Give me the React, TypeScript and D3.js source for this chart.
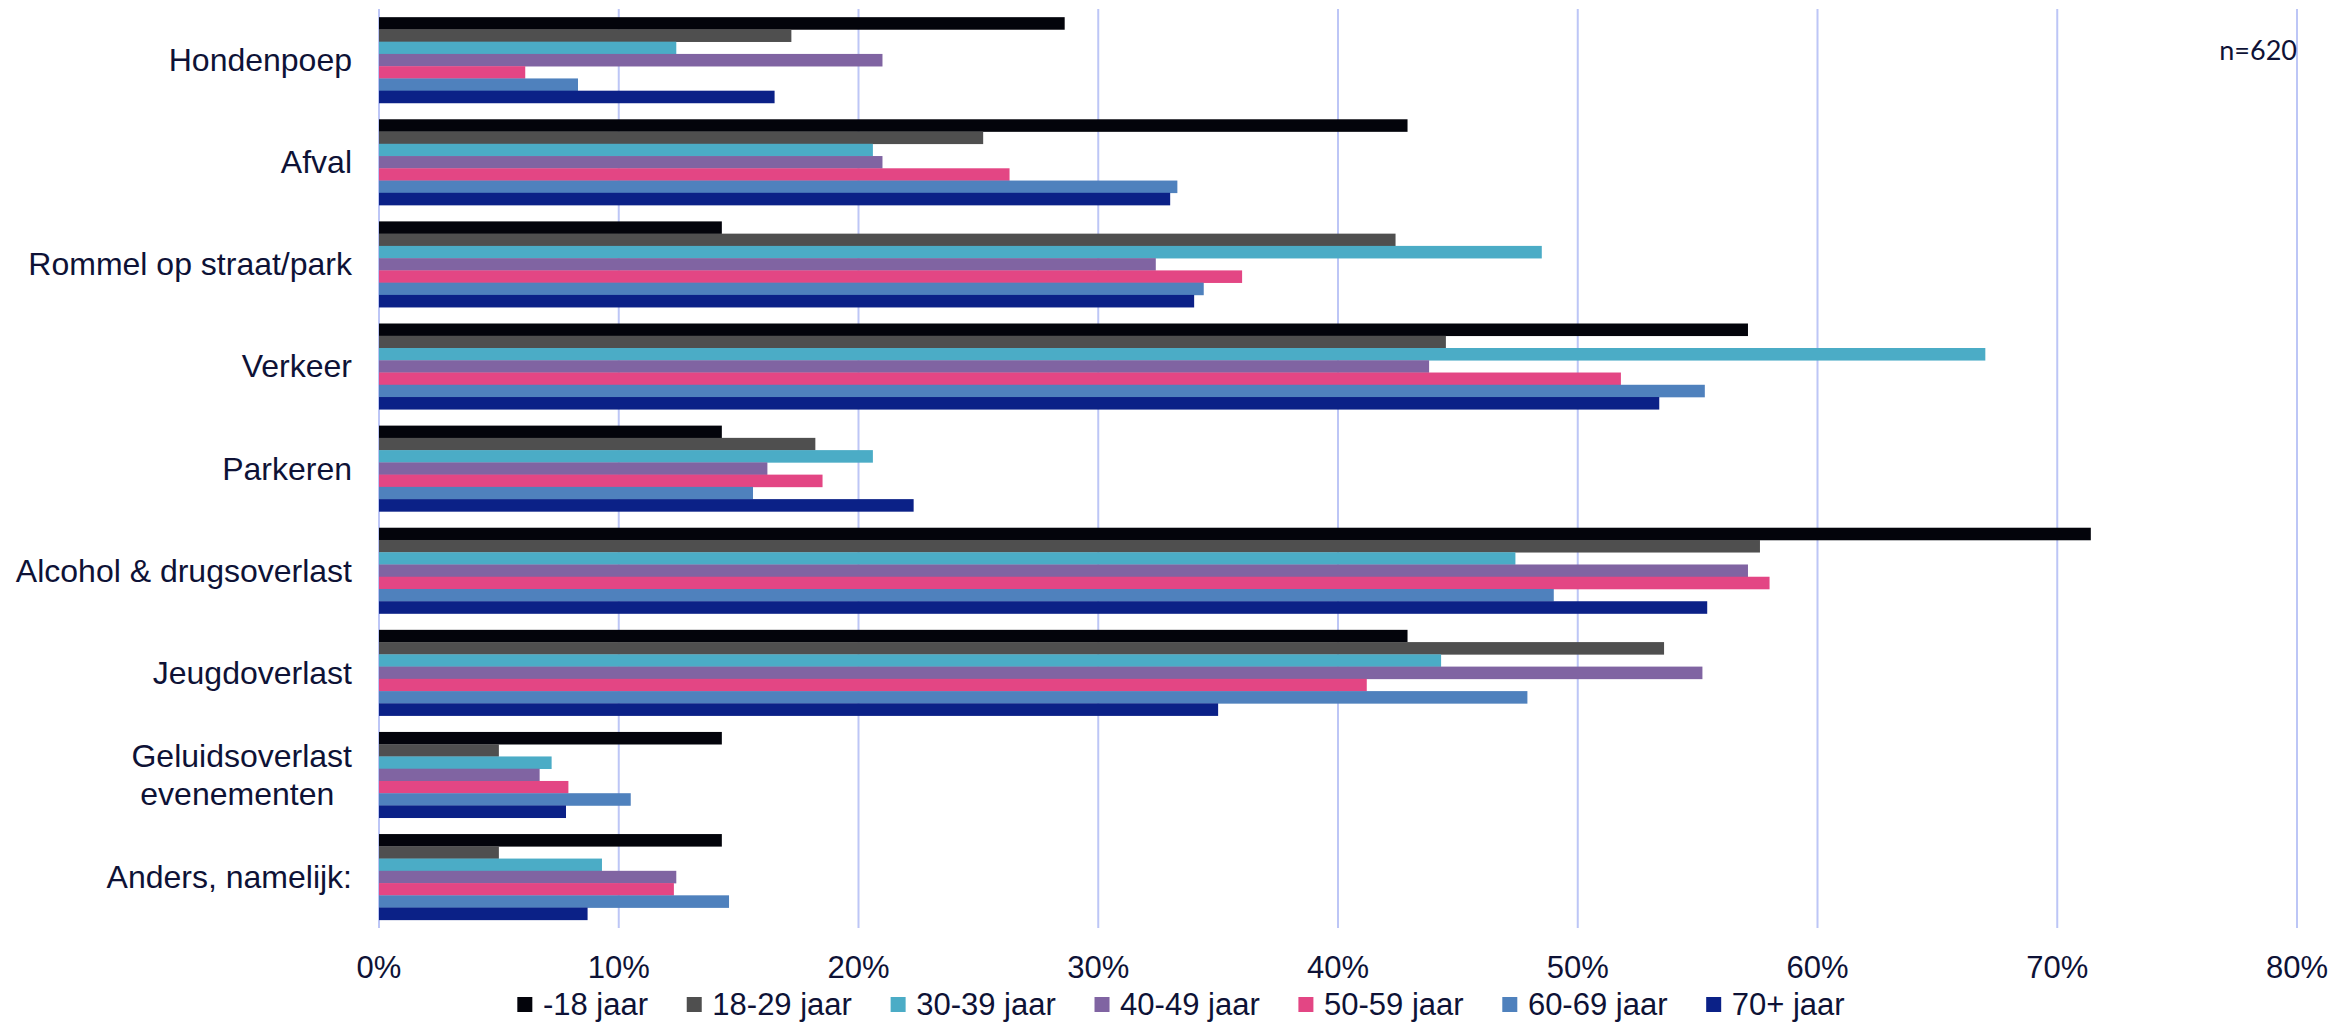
import * as d3 from 'd3'
import { useMemo } from 'react'

const WIDTH = 2336
const HEIGHT = 1022

const categories = [
  'Hondenpoep',
  'Afval',
  'Rommel op straat/park',
  'Verkeer',
  'Parkeren',
  'Alcohol & drugsoverlast',
  'Jeugdoverlast',
  'Geluidsoverlast evenementen',
  'Anders, namelijk:',
]

// label lines as they are wrapped on the axis
const categoryLines: Record<string, string[]> = {
  'Geluidsoverlast evenementen': ['Geluidsoverlast', 'evenementen  '],
}

const ageGroups = ['-18 jaar', '18-29 jaar', '30-39 jaar', '40-49 jaar', '50-59 jaar', '60-69 jaar', '70+ jaar']

// percentages per category, same order as categories
const under18 = [28.6, 42.9, 14.3, 57.1, 14.3, 71.4, 42.9, 14.3, 14.3]
const age18to29 = [17.2, 25.2, 42.4, 44.5, 18.2, 57.6, 53.6, 5.0, 5.0]
const age30to39 = [12.4, 20.6, 48.5, 67.0, 20.6, 47.4, 44.3, 7.2, 9.3]
const age40to49 = [21.0, 21.0, 32.4, 43.8, 16.2, 57.1, 55.2, 6.7, 12.4]
const age50to59 = [6.1, 26.3, 36.0, 51.8, 18.5, 58.0, 41.2, 7.9, 12.3]
const age60to69 = [8.3, 33.3, 34.4, 55.3, 15.6, 49.0, 47.9, 10.5, 14.6]
const age70plus = [16.5, 33.0, 34.0, 53.4, 22.3, 55.4, 35.0, 7.8, 8.7]

const seriesValues = [under18, age18to29, age30to39, age40to49, age50to59, age60to69, age70plus]

const ticks = [0, 10, 20, 30, 40, 50, 60, 70, 80]

const COLORS = ['#03040b', '#4f4f4f', '#4bacc6', '#8064a2', '#e34684', '#4f81bd', '#0b2187']
const TEXT = '#0e1236'
const GRID = '#bdc6f6'
const FONT = '"Liberation Sans", Arial, sans-serif'

const margin = { top: 9, right: 39, bottom: 94, left: 379 }

export default function App() {
  const chart = useMemo(() => {
    const x = d3
      .scaleLinear()
      .domain([0, 80])
      .range([margin.left, WIDTH - margin.right])

    const y = d3
      .scaleBand()
      .domain(categories)
      .range([margin.top, HEIGHT - margin.bottom])
      .paddingInner(0.16)
      .paddingOuter(0.08)

    const inner = d3.scaleBand().domain(ageGroups).range([0, y.bandwidth()])

    const grid = ticks.map((t) => (
      <g key={`g${t}`}>
        <line
          x1={x(t)}
          x2={x(t)}
          y1={margin.top}
          y2={HEIGHT - margin.bottom}
          stroke={GRID}
          strokeWidth={2}
        />
        <text x={x(t)} y={978} textAnchor="middle" fontSize={31} fill={TEXT}>
          {`${t}%`}
        </text>
      </g>
    ))

    const bars = categories.map((cat, ci) => {
      const y0 = y(cat) ?? 0
      return (
        <g key={cat} transform={`translate(0,${y0})`}>
          {ageGroups.map((age, si) => (
            <rect
              key={age}
              x={x(0)}
              y={inner(age)}
              width={x(seriesValues[si][ci]) - x(0)}
              height={inner.bandwidth() + 0.3}
              fill={COLORS[si]}
            />
          ))}
        </g>
      )
    })

    const labels = categories.map((cat) => {
      const lines = categoryLines[cat] ?? [cat]
      const cy = (y(cat) ?? 0) + y.bandwidth() / 2
      const lineH = 38
      return (
        <text
          key={cat}
          x={352}
          textAnchor="end"
          fontSize={32}
          fill={TEXT}
          style={{ whiteSpace: 'pre' }}
        >
          {lines.map((l, i) => (
            <tspan key={i} x={352} y={cy + 11 + (i - (lines.length - 1) / 2) * lineH}>
              {l}
            </tspan>
          ))}
        </text>
      )
    })

    // legend laid out by measured text widths, centered on the page
    const fs = 31
    const swatch = 15
    const gap = 10.6
    const spacing = 38.7
    const canvas = document.createElement('canvas')
    const ctx = canvas.getContext('2d')
    if (ctx) ctx.font = `${fs}px "Liberation Sans", Arial, sans-serif`
    const textW = ageGroups.map((a) => (ctx ? ctx.measureText(a).width : a.length * 15))
    const itemW = textW.map((w) => swatch + gap + w)
    const total = d3.sum(itemW) + spacing * (ageGroups.length - 1)
    let cursor = 1181 - total / 2
    const legend = ageGroups.map((age, i) => {
      const lx = cursor
      cursor += itemW[i] + spacing
      return (
        <g key={age} transform={`translate(${lx},0)`}>
          <rect x={0} y={997} width={swatch} height={swatch} fill={COLORS[i]} />
          <text x={swatch + gap} y={1015} fontSize={fs} fill={TEXT}>
            {age}
          </text>
        </g>
      )
    })

    return { grid, bars, labels, legend }
  }, [])

  const { grid, bars, labels, legend } = chart

  return (
    <svg
      width={WIDTH}
      height={HEIGHT}
      style={{ position: 'absolute', left: 0, top: 0, background: '#fff', fontFamily: FONT }}
    >
      <rect width={WIDTH} height={HEIGHT} fill="#fff" />
      <g>{grid}</g>
      <g>{bars}</g>
      <g>{labels}</g>
      <text
        x={WIDTH - margin.right}
        y={60}
        textAnchor="end"
        fontSize={27}
        fill={TEXT}
        fontFamily="Lato, 'Open Sans', sans-serif"
      >
        n=620
      </text>
      <g>{legend}</g>
    </svg>
  )
}
